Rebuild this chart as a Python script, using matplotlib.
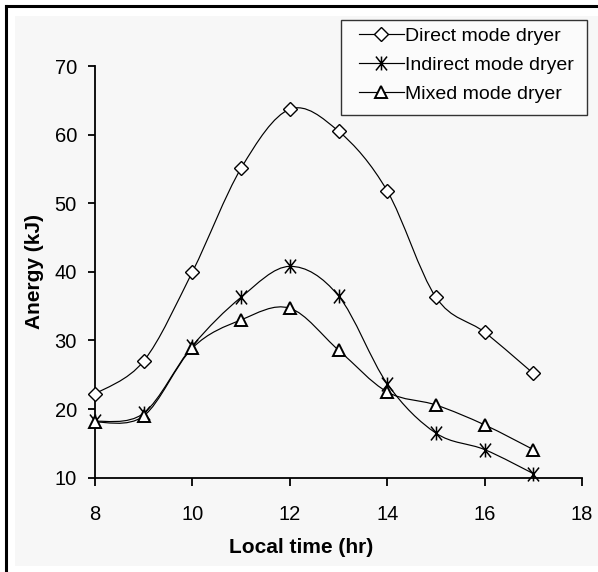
import numpy as np
import matplotlib
matplotlib.use("Agg")
import matplotlib.pyplot as plt
from matplotlib.path import Path
from matplotlib.patches import PathPatch, Rectangle
from matplotlib.lines import Line2D

hours = [8, 9, 10, 11, 12, 13, 14, 15, 16, 17]
direct = [22.2, 27.0, 40.0, 55.1, 63.7, 60.5, 51.8, 36.3, 31.2, 25.2]
indirect = [18.2, 19.4, 29.2, 36.3, 40.8, 36.5, 23.7, 16.5, 14.1, 10.6]
mixed = [18.1, 19.0, 28.9, 33.0, 34.7, 28.6, 22.5, 20.6, 17.7, 14.1]
series_names = ["Direct mode dryer", "Indirect mode dryer", "Mixed mode dryer"]
xticks = [8, 10, 12, 14, 16, 18]
yticks = [10, 20, 30, 40, 50, 60, 70]

plt.rcParams['font.family'] = ['Liberation Sans', 'DejaVu Sans']

W, H = 598, 572
fig = plt.figure(figsize=(W / 100, H / 100), dpi=100, facecolor='white')

# background panel and frame
fig.patches.append(Rectangle((15 / W, 1 - 566 / H), 1 - 15 / W, (566 - 16) / H,
                             transform=fig.transFigure, facecolor='#f7f7f7',
                             edgecolor='none', zorder=-10))
fig.lines.append(Line2D([5.5 / W, 5.5 / W], [0, 1 - 5.5 / H], transform=fig.transFigure,
                        color='black', lw=2.2, zorder=-5))
fig.lines.append(Line2D([5.5 / W, 1], [1 - 5.5 / H, 1 - 5.5 / H], transform=fig.transFigure,
                        color='black', lw=2.2, zorder=-5))

left, right, bottom, top = 95 / W, 582 / W, 1 - 477.7 / H, 1 - 66 / H
ax = fig.add_axes([left, bottom, right - left, top - bottom])
ax.set_facecolor('none')
ax.set_zorder(1)


def smooth_path(xs, ys):
    p = np.column_stack([xs, ys]).astype(float)
    n = len(p)
    verts = [p[0]]
    codes = [Path.MOVETO]
    for i in range(n - 1):
        pm = p[i - 1] if i > 0 else p[i]
        pn = p[i + 2] if i + 2 < n else p[i + 1]
        c1 = p[i] + (p[i + 1] - pm) / 6.0
        c2 = p[i + 1] - (pn - p[i]) / 6.0
        verts += [c1, c2, p[i + 1]]
        codes += [Path.CURVE4] * 3
    return Path(verts, codes)


star = Path([(0, -1), (0, 1), (-0.8, -1), (0.8, 1), (-0.8, 1), (0.8, -1)],
            [Path.MOVETO, Path.LINETO, Path.MOVETO, Path.LINETO, Path.MOVETO, Path.LINETO])

styles = [
    dict(marker='D', ms=7, mfc='white', mec='black', mew=1.0),
    dict(marker=star, ms=10, mfc='none', mec='black', mew=1.1),
    dict(marker='^', ms=9, mfc='white', mec='black', mew=1.4),
]

handles = []
for ys, st, name in zip([direct, indirect, mixed], styles, series_names):
    ax.add_patch(PathPatch(smooth_path(hours, ys), facecolor='none', edgecolor='black',
                           lw=0.85, zorder=2))
    ax.plot(hours, ys, linestyle='none', zorder=3, clip_on=False, **st)
    handles.append(Line2D([], [], color='black', lw=0.85, label=name, **st))

ax.set_xlim(8, 18)
ax.set_ylim(10, 70)
ax.set_xticks(xticks)
ax.set_yticks(yticks)
ax.spines['top'].set_visible(False)
ax.spines['right'].set_visible(False)
ax.spines['left'].set_linewidth(1.3)
ax.spines['bottom'].set_linewidth(1.3)
ax.tick_params(axis='y', direction='out', length=5, width=1.3, labelsize=14.5, pad=8)
ax.tick_params(axis='x', direction='out', length=5.5, width=1.3, labelsize=14.5, pad=14)

ax.set_xlabel('Local time (hr)', fontsize=15, fontweight='bold')
ax.set_ylabel('Anergy (kJ)', fontsize=15, fontweight='bold')
ax.xaxis.set_label_coords((301 - 95) / 487, (477.7 - 538) / 411.7)
ax.yaxis.set_label_coords((44 - 95) / 487, 0.5)

# legend frame drawn separately to match padding
fig.patches.append(Rectangle((341 / W, 1 - 115 / H), (587 - 341) / W, (115 - 20) / H,
                             transform=fig.transFigure, facecolor='#fbfbfb',
                             edgecolor='#333333', lw=1.0, zorder=4))
leg = fig.legend(handles=handles, loc='upper left',
                 bbox_to_anchor=(359 / W, 1 - 27 / H), bbox_transform=fig.transFigure,
                 fontsize=14, frameon=False, handlelength=2.3, handletextpad=0.08,
                 labelspacing=0.6, borderpad=0, borderaxespad=0)
leg.set_zorder(5)

fig.savefig('out.png', dpi=100, facecolor=fig.get_facecolor())
